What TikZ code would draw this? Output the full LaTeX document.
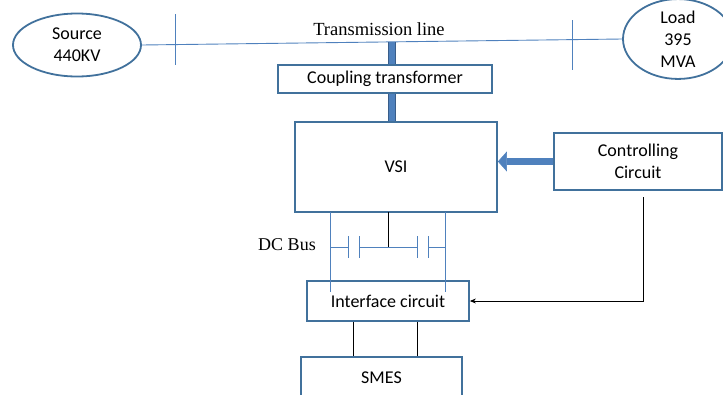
\documentclass[tikz,border=0pt]{standalone}
\usepackage{fontspec}
\setmainfont{Liberation Serif}
\newfontfamily\boxfont{Carlito}
\usetikzlibrary{shapes.geometric,arrows.meta}
\definecolor{boxblue}{RGB}{65,113,156}
\definecolor{lineblue}{RGB}{79,129,189}
\definecolor{baredge}{RGB}{56,93,138}
\begin{document}
\begin{tikzpicture}[x=1pt,y=-1pt,
    blockbox/.style={draw=boxblue, line width=1.8pt, fill=white, inner sep=0pt,
      align=center, font=\boxfont\fontsize{18}{22}\selectfont},
    ovalbox/.style={blockbox, ellipse},
    thinblue/.style={draw=lineblue, line width=0.9pt},
    busbar/.style={draw=baredge, line width=1pt, double=lineblue, double distance=5.5pt},
    fatarrow/.style={draw=lineblue, line width=7pt,
      -{Triangle[length=9pt,width=20pt,line width=0.5pt]}},
    serif/.style={font=\fontsize{18.5}{22}\selectfont}]
    \useasboundingbox (0,0) rectangle (723,394);
    \clip (0,0) rectangle (723,394);
    % Netz
    \node[ovalbox, minimum width=128pt, minimum height=63pt] (src) at (77,45) {Source\\440KV};
    \node[ovalbox, minimum width=110pt, minimum height=62pt] (load) at (678,39) {Load\\395\\MVA};
    \draw[thinblue] (src.east) -- (load.west);
    \draw[thinblue]
    (175,14) -- (175,65)
    (572,20) -- (572,70);
    \node[serif] (tline) at (379,29) {Transmission line};
    \coordinate (tap) at (392,42);
    % Bloecke
    \node[blockbox, minimum width=214pt, minimum height=28pt] (coup) at (385,79) {Coupling transformer};
    \node[blockbox, minimum width=202pt, minimum height=90pt] (vsi) at (396,167) {VSI};
    \node[blockbox, minimum width=168pt, minimum height=57pt] (ctrl) at (638,161.5) {Controlling\\Circuit};
    \node[blockbox, minimum width=162pt, minimum height=40pt] (iface) at (388,301) {Interface circuit};
    \node[blockbox, minimum width=161pt, minimum height=42pt] (smes) at (381.5,378) {SMES};
    % Kopplung
    \draw[busbar]
    (tap) -- (tap |- coup.north)
    (tap |- coup.south) -- (tap |- vsi.north);
    \draw[fatarrow] (ctrl.west) -- (vsi.east |- ctrl.west);
    % DC Bus
    \draw[thinblue]
    (330,212) -- (330,292)
    (445,212) -- (445,292)
    (330,247) -- (348,247)
    (359,247) -- (417,247)
    (428,247) -- (445,247)
    (348,236) -- (348,258)
    (359,236) -- (359,258)
    (417,236) -- (417,258)
    (428,236) -- (428,258);
    \draw[line width=0.8pt] (388,212) -- (388,247);
    \node[serif, font=\fontsize{18}{22}\selectfont] (dcbus) at (287,245) {DC Bus};
    % Steuerung
    \coordinate (cdrop) at (643,197);
    \draw[line width=0.8pt, -{Stealth[length=6pt,width=5pt]}] (cdrop) |- (iface.east);
    \draw[line width=0.8pt]
    (353,0 |- iface.south) -- (353,0 |- smes.north)
    (417,0 |- iface.south) -- (417,0 |- smes.north);
\end{tikzpicture}
\end{document}
